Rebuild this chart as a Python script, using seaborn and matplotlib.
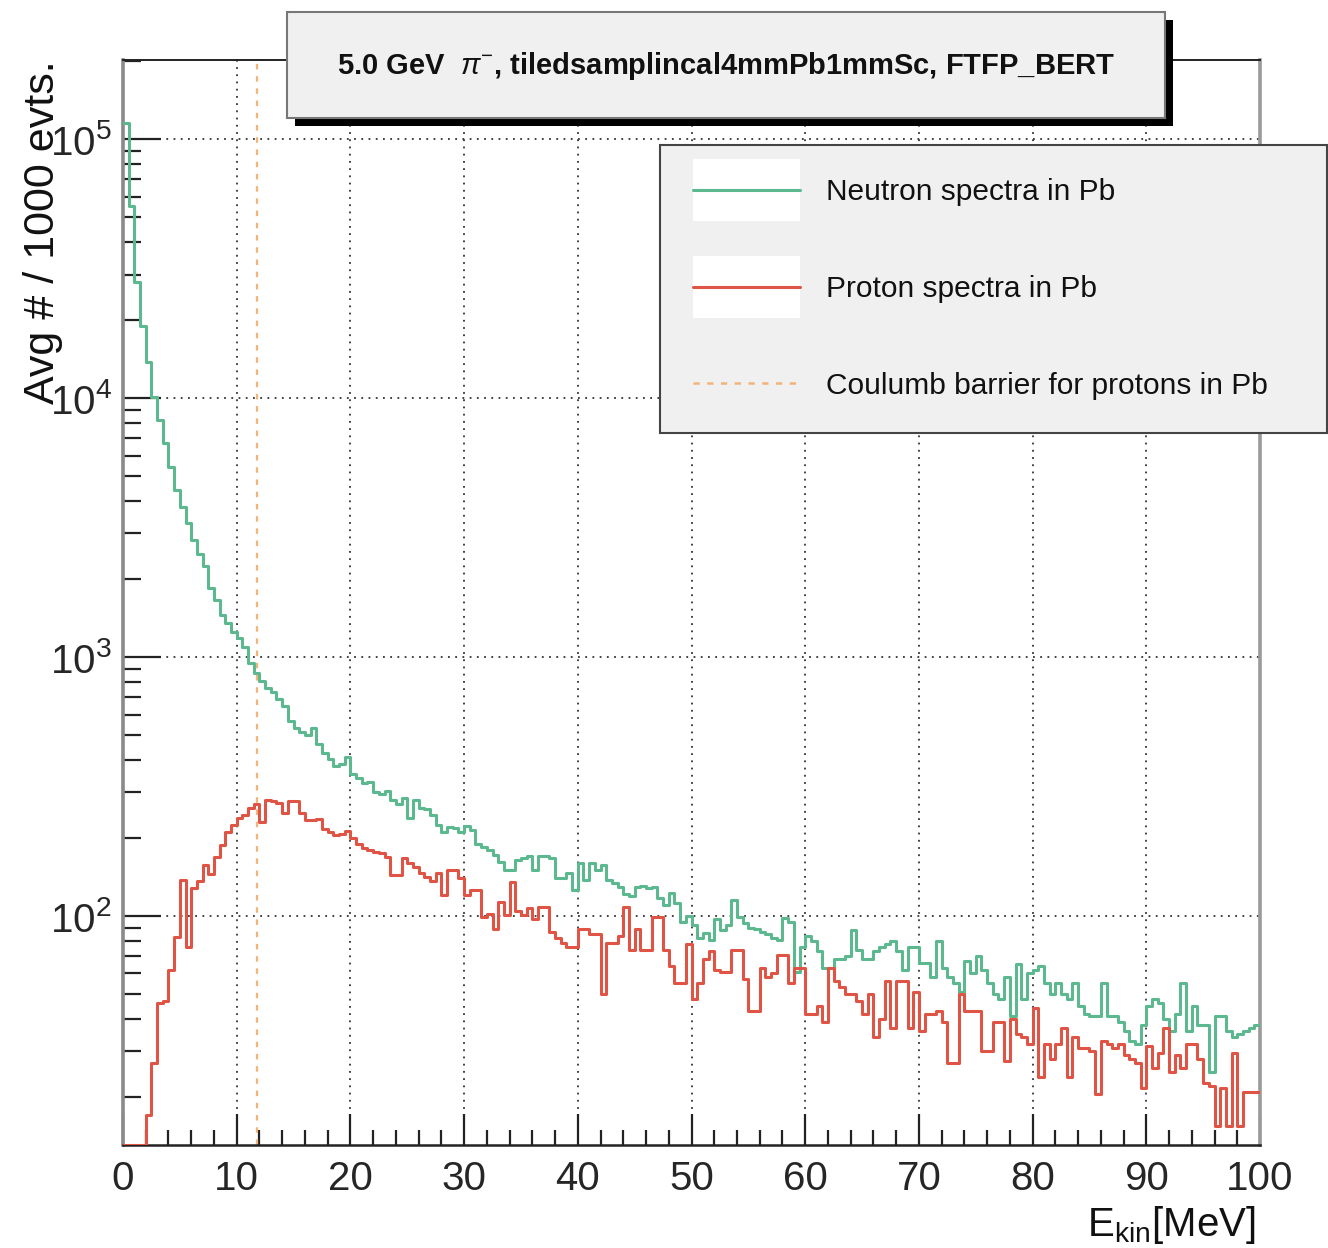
import numpy as np
import pandas as pd
import matplotlib
matplotlib.use("Agg")
import matplotlib.pyplot as plt
import seaborn as sns
from matplotlib import font_manager
from matplotlib.patches import Rectangle, Patch
from matplotlib.lines import Line2D
from matplotlib.legend_handler import HandlerTuple, HandlerPatch
from matplotlib.ticker import MultipleLocator, LogLocator, NullFormatter

# ---------------- data ----------------
E_MIN, E_MAX, N_BINS = 0.0, 100.0, 200

neutron_counts = [
    115000, 55000, 28000, 19000, 13800, 10100, 8200, 6700, 5400, 4400,
    3800, 3300, 2830, 2500, 2240, 1850, 1660, 1450, 1350, 1250,
    1180, 1090, 950, 870, 810, 760, 730, 690, 650, 565,
    530, 515, 500, 530, 460, 425, 405, 380, 385, 410,
    355, 340, 325, 330, 300, 295, 305, 280, 270, 285,
    240, 280, 262, 258, 245, 225, 212, 220, 218, 212,
    222, 215, 190, 184, 180, 172, 162, 150, 150, 165,
    167, 170, 150, 170, 170, 168, 140, 140, 147, 126,
    160, 138, 160, 150, 158, 138, 134, 130, 122, 120,
    130, 131, 128, 130, 117, 110, 123, 112, 95, 100,
    92, 82, 86, 81, 97, 88, 92, 115, 99, 94,
    90, 89, 87, 85, 82, 81, 98, 95, 61, 76,
    84, 80, 73, 63, 63, 68, 68, 70, 88, 74,
    68, 68, 73, 76, 78, 80, 73, 62, 76, 76,
    66, 66, 58, 80, 63, 58, 55, 51, 67, 60,
    70, 62, 55, 50, 48, 58, 41, 65, 48, 60,
    62, 64, 55, 50, 55, 50, 48, 55, 45, 42,
    41, 41, 55, 41, 41, 39, 36, 33, 32, 38,
    45, 48, 46, 40, 36, 42, 55, 36, 45, 38,
    38, 25, 41, 41, 36, 34, 35, 36, 37, 38,
]

proton_counts = [
    0, 0, 0, 0, 17, 27, 46, 47, 62, 83,
    138, 76, 128, 137, 157, 145, 169, 188, 211, 224,
    239, 245, 261, 270, 230, 280, 277, 273, 250, 277,
    277, 251, 235, 235, 237, 217, 211, 205, 208, 213,
    200, 190, 183, 180, 177, 175, 169, 144, 144, 168,
    160, 154, 147, 142, 136, 147, 121, 150, 150, 140,
    121, 126, 126, 99, 102, 89, 113, 101, 135, 105,
    101, 107, 97, 108, 108, 87, 82, 79, 76, 76,
    89, 89, 85, 85, 50, 79, 79, 84, 108, 74,
    89, 74, 74, 99, 99, 74, 64, 55, 55, 78,
    48, 55, 68, 73, 62, 61, 61, 74, 74, 57,
    43, 43, 63, 58, 60, 71, 71, 55, 63, 63,
    42, 42, 45, 39, 63, 56, 53, 50, 50, 47,
    42, 50, 34, 40, 56, 37, 56, 56, 37, 51,
    36, 42, 42, 43, 39, 27, 27, 50, 43, 43,
    43, 30, 30, 39, 39, 27.5, 40, 35, 34, 32,
    44, 24, 32, 28, 32, 37, 24, 34, 31, 31,
    30, 20.5, 33, 32, 31, 32, 29, 28, 27, 21.6,
    31.5, 26, 29.5, 37, 25, 29, 26, 32, 32, 28,
    22.6, 22, 15.5, 21.6, 15.5, 29.5, 15.5, 21, 21, 21,
]

coulomb_barrier_mev = 11.8

title_text = r"5.0 GeV  $\pi^{-}$, tiledsamplincal4mmPb1mmSc, FTFP_BERT"
legend_labels = ["Neutron spectra in Pb", "Proton spectra in Pb",
                 "Coulumb barrier for protons in Pb"]
y_label = "Avg # / 1000 evts."
x_label = r"E$_{\rm kin}$[MeV]"

# ---------------- style ----------------
sns.set_theme(style="white")
names = {f.name for f in font_manager.fontManager.ttflist}
REG = "Liberation Sans" if "Liberation Sans" in names else "DejaVu Sans"
plt.rcParams["font.family"] = [REG, "DejaVu Sans"]
plt.rcParams["mathtext.fontset"] = "custom"
plt.rcParams["mathtext.rm"] = REG
plt.rcParams["mathtext.it"] = REG + ":italic"
plt.rcParams["mathtext.bf"] = REG + ":bold"

GREEN = "#5cb88e"
RED = "#e05445"
ORANGE = "#f3b47a"

W, H = 1328, 1248
fig = plt.figure(figsize=(W / 100, H / 100), dpi=100)
fig.patch.set_facecolor("white")
L, R, T, B = 123, 1260, 60, 1145
ax = fig.add_axes([L / W, 1 - B / H, (R - L) / W, (B - T) / H])
ax.set_facecolor("white")

Y_LO, Y_HI = 13.06, 2.02e5
edges = np.linspace(E_MIN, E_MAX, N_BINS + 1)
centers = 0.5 * (edges[:-1] + edges[1:])
df = pd.DataFrame({
    "E": centers,
    "neutron": np.clip(np.array(neutron_counts, float), Y_LO, None),
    "proton": np.clip(np.array(proton_counts, float), Y_LO, None),
})

sns.histplot(data=df, x="E", weights="neutron", bins=N_BINS,
             binrange=(E_MIN, E_MAX), element="step",
             fill=False, color=GREEN, linewidth=2.2, ax=ax, zorder=3)
sns.histplot(data=df, x="E", weights="proton", bins=N_BINS,
             binrange=(E_MIN, E_MAX), element="step",
             fill=False, color=RED, linewidth=2.2, ax=ax, zorder=4)
ax.axvline(coulomb_barrier_mev, color=ORANGE, lw=1.6, ls=(0, (2.5, 3)), zorder=2)

ax.set_yscale("log")
ax.set_xlim(E_MIN, E_MAX)
ax.set_ylim(Y_LO, Y_HI)

ax.xaxis.set_major_locator(MultipleLocator(10))
ax.xaxis.set_minor_locator(MultipleLocator(2))
ax.yaxis.set_major_locator(LogLocator(base=10))
ax.yaxis.set_minor_locator(LogLocator(base=10, subs=np.arange(2, 10)))
ax.yaxis.set_minor_formatter(NullFormatter())

ax.grid(True, which="major", ls=(0, (1, 3)), color="#333333", lw=1.3)
ax.set_axisbelow(True)

ax.tick_params(axis="x", which="major", direction="in", length=22, width=1.6,
               color="#222222", pad=11, labelsize=29, bottom=True, top=False)
ax.tick_params(axis="x", which="minor", direction="in", length=11, width=1.6,
               color="#222222", bottom=True, top=False)
ax.tick_params(axis="y", which="major", direction="in", length=27, width=1.6,
               color="#222222", pad=8, labelsize=29, left=True, right=False)
ax.tick_params(axis="y", which="minor", direction="in", length=13, width=1.6,
               color="#222222", left=True, right=False)

for side, col, lw in [("left", "#8a8a8a", 2.6), ("right", "#9a9a9a", 2.6),
                      ("bottom", "#222222", 1.8), ("top", "#222222", 1.4)]:
    ax.spines[side].set_visible(True)
    ax.spines[side].set_color(col)
    ax.spines[side].set_linewidth(lw)

ax.set_ylabel(y_label, fontsize=31, loc="top", color="#111111")
ax.yaxis.set_label_coords(-0.053, 1.0)
ax.set_xlabel(x_label, fontsize=29, loc="right", color="#111111")
ax.xaxis.set_label_coords(0.996, -0.054)

# ---------------- title box ----------------
bx0, bx1, by0, by1 = 287, 1165, 12, 118
sh = 8
fig.patches.append(Rectangle(((bx0 + sh) / W, 1 - (by1 + sh) / H), (bx1 - bx0) / W,
                             (by1 - by0) / H, transform=fig.transFigure,
                             facecolor="black", edgecolor="none", zorder=5))
fig.patches.append(Rectangle((bx0 / W, 1 - by1 / H), (bx1 - bx0) / W,
                             (by1 - by0) / H, transform=fig.transFigure,
                             facecolor="#f0f0f0", edgecolor="#777777", lw=1.5, zorder=6))
fig.text((bx0 + bx1) / 2 / W, 1 - 66 / H, title_text, ha="center", va="center",
         fontsize=21, fontweight="bold", color="#111111", zorder=7,
         family=[REG, "DejaVu Sans"])

# ---------------- legend ----------------
BOX_H_PT = 62 * 0.72


def white_box(legend, orig_handle, xdescent, ydescent, width, height, fontsize):
    cy = (height - ydescent) / 2.0
    return Rectangle((-xdescent, cy - BOX_H_PT / 2.0), width, BOX_H_PT)


h_n = (Patch(facecolor="white", edgecolor="none"), Line2D([], [], color=GREEN, lw=2.2))
h_p = (Patch(facecolor="white", edgecolor="none"), Line2D([], [], color=RED, lw=2.2))
h_c = Line2D([], [], color=ORANGE, lw=1.8, ls=(0, (2.5, 3)))
fs = 21.5
fpx = fs / 72 * 100
leg = fig.legend([h_n, h_p, h_c], legend_labels,
                 handler_map={tuple: HandlerTuple(ndivide=1),
                              Patch: HandlerPatch(patch_func=white_box)},
                 loc="upper left",
                 bbox_to_anchor=(660 / W, 1 - 145 / H, 667 / W, 0),
                 bbox_transform=fig.transFigure, mode="expand",
                 borderaxespad=0, fontsize=fs, frameon=True, fancybox=False,
                 shadow=False, framealpha=1, handlelength=107 / fpx,
                 labelspacing=2.3, handletextpad=26 / fpx, borderpad=1.12)
leg.get_frame().set_facecolor("#f0f0f0")
leg.get_frame().set_edgecolor("#444444")
leg.get_frame().set_linewidth(1.5)
for t in leg.get_texts():
    t.set_color("#111111")
leg.set_zorder(8)

fig.savefig("out.png", dpi=100)
